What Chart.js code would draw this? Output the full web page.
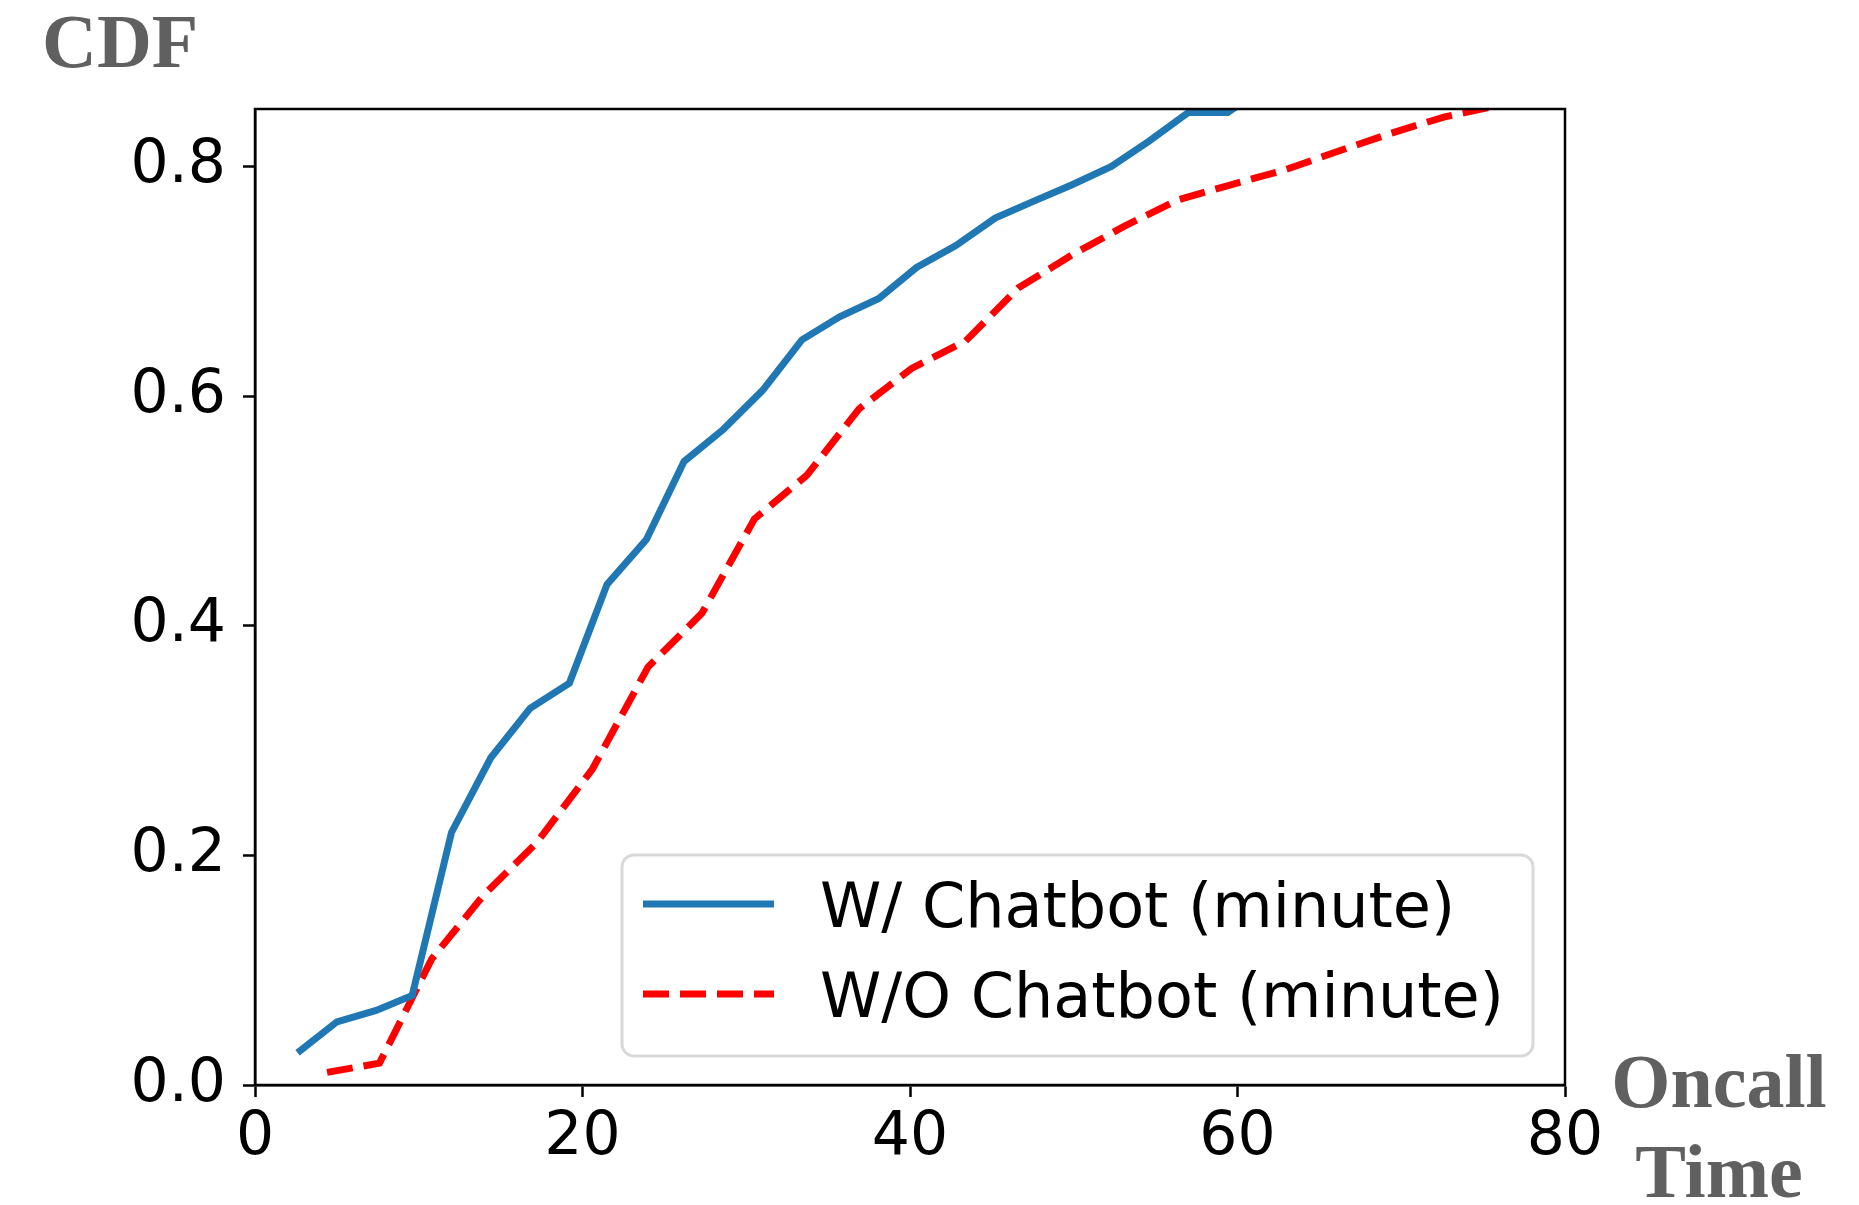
<!DOCTYPE html>
<html>
<head>
<meta charset="utf-8">
<script src="https://cdn.jsdelivr.net/npm/chart.js@4.4.1/dist/chart.umd.min.js"></script>
<style>
  html, body { margin: 0; padding: 0; background: #fff; }
  #wrap { width: 1859px; height: 1205px; position: relative; }
</style>
</head>
<body>
<div id="wrap"><canvas id="cdfChart"></canvas></div>
<script>
// values
const withX = [2.6, 5.0, 7.4, 9.6, 12.0, 14.4, 16.8, 19.2, 21.5, 23.9, 26.2, 28.6, 31.0,
  33.4, 35.7, 38.1, 40.4, 42.8, 45.2, 47.6, 49.9, 52.3, 54.6, 57.0, 59.4, 61.8];
const withY = [0.028, 0.055, 0.065, 0.078, 0.220, 0.285, 0.328, 0.350, 0.436, 0.475, 0.543, 0.571, 0.605,
  0.649, 0.669, 0.685, 0.712, 0.731, 0.755, 0.770, 0.784, 0.800, 0.822, 0.847, 0.847, 0.870];

const withoutX = [4.4, 7.6, 10.8, 14.0, 17.2, 20.6, 24.0, 27.3, 30.5, 33.7, 36.9, 40.1,
  43.4, 46.6, 49.9, 53.1, 56.4, 59.6, 62.9, 66.1, 69.4, 72.6, 75.9, 79.1];
const withoutY = [0.011, 0.019, 0.110, 0.166, 0.211, 0.275, 0.364, 0.411, 0.493, 0.531, 0.589, 0.624,
  0.648, 0.694, 0.723, 0.748, 0.771, 0.784, 0.797, 0.813, 0.829, 0.843, 0.853, 0.870];

const seriesLabels = ['W/ Chatbot (minute)', 'W/O Chatbot (minute)'];
const xTicks = [0, 20, 40, 60, 80];
const yTicks = [0.0, 0.2, 0.4, 0.6, 0.8];

const TICK_FONT = { family: 'DejaVu Sans', size: 60 };
const TITLE_FONT = 'bold 76px "Liberation Serif", "Times New Roman", serif';
const TITLE_COLOR = '#606060';

const toPoints = (xs, ys) => xs.map((x, i) => ({ x: x, y: ys[i] }));

// frame, axis titles and legend box (matplotlib style)
const extras = {
  id: 'extras',
  afterDatasetsDraw(chart) {
    const ctx = chart.ctx;
    const a = chart.chartArea;
    ctx.save();

    // full frame round the plot
    ctx.strokeStyle = '#000';
    ctx.lineWidth = 2.5;
    ctx.strokeRect(a.left, a.top, a.right - a.left, a.bottom - a.top);

    // legend
    const boxW = 911, boxH = 201;
    const bx = a.right - 32 - boxW;
    const by = a.bottom - 29 - boxH;
    ctx.beginPath();
    ctx.roundRect(bx, by, boxW, boxH, 12);
    ctx.fillStyle = 'rgba(255,255,255,0.85)';
    ctx.fill();
    ctx.strokeStyle = '#d9d9d9';
    ctx.lineWidth = 3;
    ctx.stroke();

    ctx.font = '62px "DejaVu Sans"';
    ctx.textBaseline = 'alphabetic';
    ctx.textAlign = 'left';
    chart.data.datasets.forEach((ds, i) => {
      const ly = by + 49 + i * 90;
      ctx.beginPath();
      ctx.strokeStyle = ds.borderColor;
      ctx.lineWidth = ds.borderWidth;
      ctx.lineCap = 'butt';
      ctx.setLineDash(ds.borderDash || []);
      ctx.moveTo(bx + 21, ly);
      ctx.lineTo(bx + 152, ly);
      ctx.stroke();
      ctx.setLineDash([]);
      ctx.fillStyle = '#000';
      ctx.fillText(ds.label, bx + 198, ly + 23);
    });

    // axis titles
    ctx.font = TITLE_FONT;
    ctx.fillStyle = TITLE_COLOR;
    ctx.textAlign = 'left';
    ctx.fillText('CDF', 42, 67);
    ctx.textAlign = 'center';
    ctx.fillText('Oncall', 1719, 1107);
    ctx.fillText('Time', 1719, 1197);

    ctx.restore();
  }
};

const ctx = document.getElementById('cdfChart').getContext('2d');
new Chart(ctx, {
  type: 'line',
  data: {
    datasets: [{
      label: seriesLabels[0],
      data: toPoints(withX, withY),
      borderColor: '#1f77b4',
      borderWidth: 7,
      pointRadius: 0,
      tension: 0,
      fill: false
    }, {
      label: seriesLabels[1],
      data: toPoints(withoutX, withoutY),
      borderColor: '#ff0000',
      borderWidth: 7,
      borderDash: [26, 11],
      borderCapStyle: 'butt',
      pointRadius: 0,
      tension: 0,
      fill: false
    }]
  },
  options: {
    responsive: true,
    maintainAspectRatio: false,
    animation: false,
    layout: { padding: { left: 0, right: 294, top: 109, bottom: 0 } },
    plugins: {
      legend: { display: false },
      tooltip: { enabled: false }
    },
    scales: {
      x: {
        type: 'linear',
        min: 0,
        max: 80,
        afterBuildTicks: s => { s.ticks = xTicks.map(v => ({ value: v })); },
        afterFit: s => { s.height = 120; },
        grid: { drawOnChartArea: false, drawTicks: true, tickLength: 12, tickWidth: 2.5, tickColor: '#000' },
        border: { display: true, color: '#000', width: 2.5 },
        ticks: { color: '#000', font: TICK_FONT, padding: 5, maxRotation: 0, autoSkip: false }
      },
      y: {
        type: 'linear',
        min: 0,
        max: 0.85,
        afterBuildTicks: s => { s.ticks = yTicks.map(v => ({ value: v })); },
        afterFit: s => { s.width = 255; },
        grid: { drawOnChartArea: false, drawTicks: true, tickLength: 12, tickWidth: 2.5, tickColor: '#000' },
        border: { display: true, color: '#000', width: 2.5 },
        ticks: {
          color: '#000', font: TICK_FONT, padding: 17, autoSkip: false,
          callback: v => v.toFixed(1)
        }
      }
    }
  },
  plugins: [extras]
});
</script>
</body>
</html>
